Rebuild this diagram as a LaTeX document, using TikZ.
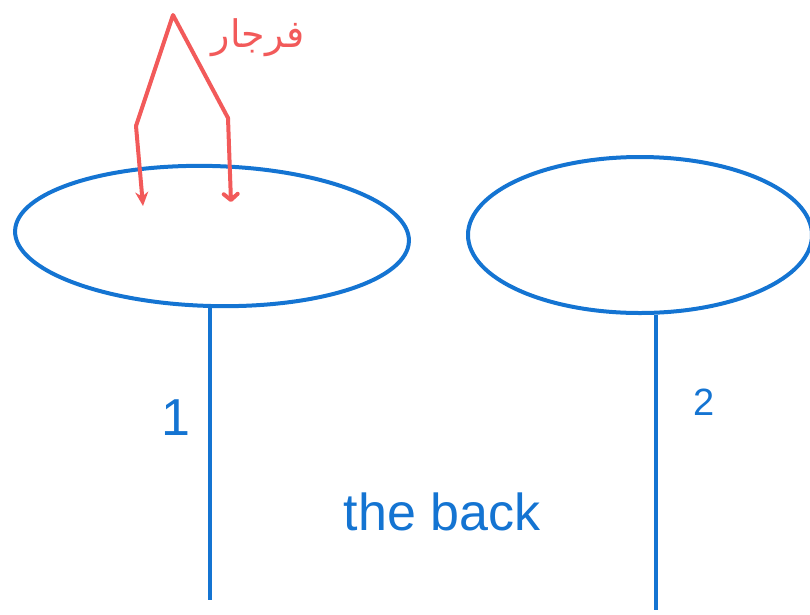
\documentclass[tikz,border=0pt]{standalone}
\usepackage{fontspec}
\setmainfont{Liberation Sans}
\newfontfamily\arabicfont[Script=Arabic]{DejaVu Sans}
\TeXXeTstate=1
\usepackage{xcolor}
\definecolor{PenBlue}{HTML}{1474D2}
\definecolor{PenRed}{HTML}{F25A5A}
\usetikzlibrary{shapes.geometric, arrows.meta, positioning}

\begin{document}
\begin{tikzpicture}[
  x=1pt, y=-1pt,
  plate/.style={
    ellipse,
    draw=PenBlue,
    line width=4pt,
    inner sep=0pt},
  post/.style={
    draw=PenBlue,
    line width=4pt},
  leg/.style={
    draw=PenRed,
    line width=4pt,
    line join=round,
    line cap=round},
  tipleg/.style={
    leg,
    -{Stealth[length=14pt,width=13pt]}},
  hookleg/.style={
    leg,
    -{Straight Barb[length=6pt,width=14pt,line width=4pt,round]}},
  tag/.style={
    text=PenBlue,
    inner sep=0pt},
]
\useasboundingbox (0,0) rectangle (810,614);

\node[plate, minimum width=394pt, minimum height=140pt, rotate=-1.5]
  (plateA) at (212,236) {};
\node[plate, minimum width=344pt, minimum height=156pt]
  (plateB) at (640,235) {};

\coordinate (footA) at (210,600);
\coordinate (footB) at (656,610);
\draw[post] (plateA.south -| footA) -- (footA);
\draw[post] (plateB.south -| footB) -- (footB);

\node[tag, font=\fontsize{52}{52}\selectfont] (numA) at (176,418) {1};
\node[tag, font=\fontsize{38}{38}\selectfont] (numB) at (704,402) {2};
\node[tag, font=\fontsize{52}{52}\selectfont] (back) at (442,512) {the back};

% compass
\coordinate (apex) at (173,15);
\coordinate (bendL) at (136,126);
\coordinate (bendR) at (228,118);
\coordinate (tipL) at (143,206);
\coordinate (tipR) at (231,202);
\draw[leg] (bendL) -- (apex) -- (bendR);
\draw[tipleg] (bendL) -- (tipL);
\draw[hookleg] (bendR) -- (tipR);

\node[text=PenRed, inner sep=0pt, font=\fontsize{38}{38}\selectfont]
  (compass) at (258,38) {\arabicfont\beginR فرجار\endR};

\end{tikzpicture}
\end{document}
